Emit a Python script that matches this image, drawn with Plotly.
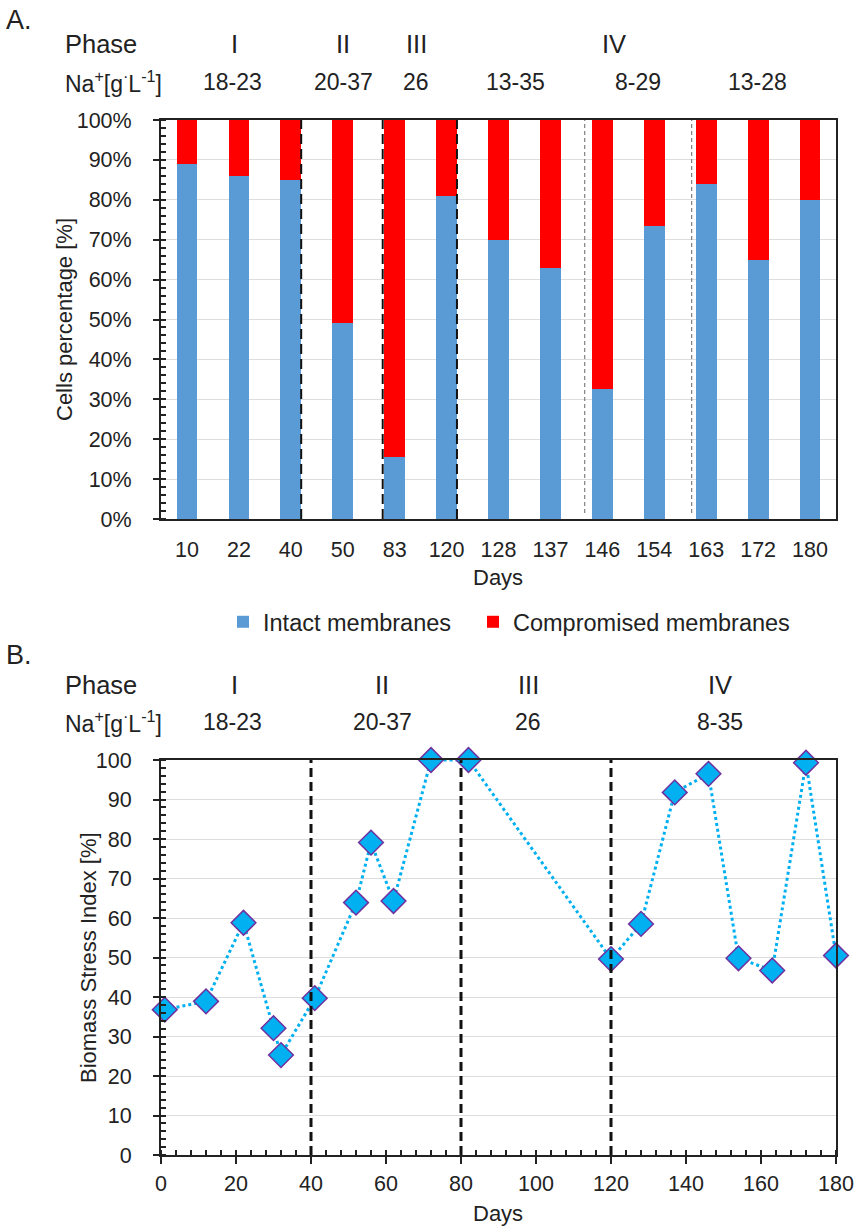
import plotly.graph_objects as go

# ---- Panel A: membrane integrity per sampling day ----
days_a = ["10", "22", "40", "50", "83", "120", "128", "137", "146", "154", "163", "172", "180"]
intact = [89, 86, 85, 49, 15.5, 81, 70, 63, 32.5, 73.5, 84, 65, 80]
compromised = [100 - v for v in intact]
pct_ticks = list(range(0, 101, 10))
pct_labels = [f"{v}%" for v in pct_ticks]

# ---- Panel B: biomass stress index over time ----
days_b = [1, 12, 22, 30, 32, 41, 52, 56, 62, 72, 82, 120, 128, 137, 146, 154, 163, 172, 180]
stress = [36.8, 38.9, 58.8, 32.1, 25.3, 39.7, 63.9, 79.1, 64.3, 100, 100, 49.6, 58.5,
          91.8, 96.5, 49.8, 46.7, 99.3, 50.5]

phase_a = ["I", "II", "III", "IV"]
na_a = ["18-23", "20-37", "26", "13-35", "8-29", "13-28"]
phase_b = ["I", "II", "III", "IV"]
na_b = ["18-23", "20-37", "26", "8-35"]

W, H = 859, 1229
FONT = "Liberation Sans, Arial, sans-serif"
TXT = "#222222"


def px(x):
    return x / W


def py(y):
    return 1 - y / H


fig = go.Figure()

fig.add_trace(go.Bar(x=days_a, y=intact, name="Intact membranes",
                     marker=dict(color="#5B9BD5", line=dict(width=0)),
                     xaxis="x", yaxis="y", legend="legend"))
fig.add_trace(go.Bar(x=days_a, y=compromised, name="Compromised membranes",
                     marker=dict(color="#FF0000", line=dict(width=0)),
                     xaxis="x", yaxis="y", legend="legend2"))

fig.add_trace(go.Scatter(x=days_b, y=stress, mode="lines+markers", showlegend=False,
                         line=dict(color="#00B0F0", width=3, dash="dot"),
                         marker=dict(symbol="diamond", size=19, color="#00B0F0",
                                     line=dict(color="#7030A0", width=1.5)),
                         cliponaxis=False, xaxis="x2", yaxis="y2"))

dom_x = [px(161), px(836)]
axis_common = dict(showline=True, linecolor="#222222", linewidth=2, mirror=True,
                   automargin=False,
                   tickfont=dict(family=FONT, size=21.5, color=TXT), zeroline=False)
minor_y = dict(dtick=2, ticks="inside", ticklen=5, tickcolor="#222222",
               tickwidth=1.5, showgrid=False)
legend_style = dict(orientation="h", xanchor="left", y=py(622), yanchor="middle",
                    font=dict(family=FONT, size=23.5, color=TXT), itemwidth=30,
                    bgcolor="rgba(0,0,0,0)")

fig.update_layout(
    width=W, height=H, margin=dict(l=0, r=0, t=0, b=0, autoexpand=False),
    paper_bgcolor="white", plot_bgcolor="white",
    barmode="stack", bargap=0.6,
    font=dict(family=FONT, color=TXT),
    xaxis=dict(domain=dom_x, anchor="y", type="category", range=[-0.5, 12.5],
               ticks="", ticklabelstandoff=10, showgrid=False, **axis_common),
    yaxis=dict(domain=[py(519), py(120)], anchor="x", range=[0, 100],
               tickmode="array", tickvals=pct_ticks, ticktext=pct_labels,
               ticks="outside", ticklen=6, tickcolor="#222222", tickwidth=1.5,
               ticklabelstandoff=17,
               showgrid=True, gridcolor="#DDDDDD", gridwidth=1,
               minor=minor_y, **axis_common),
    xaxis2=dict(domain=dom_x, anchor="y2", range=[0, 180], dtick=20,
                ticks="outside", ticklen=7, tickcolor="#222222", tickwidth=1.5,
                ticklabelstandoff=1, showgrid=False,
                minor=dict(dtick=4, ticks="inside", ticklen=5, tickcolor="#222222",
                           tickwidth=1.5, showgrid=False),
                **axis_common),
    yaxis2=dict(domain=[py(1155), py(760)], anchor="x2", range=[0, 100], dtick=10,
                ticks="outside", ticklen=6, tickcolor="#222222", tickwidth=1.5,
                ticklabelstandoff=17,
                showgrid=True, gridcolor="#DDDDDD", gridwidth=1,
                minor=minor_y, **axis_common),
    legend=dict(x=px(223), **legend_style),
    legend2=dict(x=px(473), **legend_style),
)

# Phase boundaries, panel A (category index coordinates)
for xv in [2.2, 3.77, 5.2]:
    fig.add_shape(type="line", xref="x", yref="y", x0=xv, x1=xv, y0=0, y1=100,
                  line=dict(color="#111111", width=2, dash="10px,5px"))
for xv in [7.66, 9.72]:
    fig.add_shape(type="line", xref="x", yref="y", x0=xv, x1=xv, y0=1.5, y1=101,
                  line=dict(color="#808080", width=1.2, dash="4px,3px"))

# Phase boundaries, panel B
for xv in [40, 80, 120]:
    fig.add_shape(type="line", xref="x2", yref="y2", x0=xv, x1=xv, y0=0, y1=100,
                  line=dict(color="#111111", width=3, dash="9px,5px"))

ann = []


def label(text, x, y, size, anchor="center", angle=0):
    ann.append(dict(text=text, x=px(x), y=py(y), xref="paper", yref="paper",
                    xanchor=anchor, yanchor="middle", showarrow=False, textangle=angle,
                    font=dict(family=FONT, size=size, color=TXT)))


NA = "Na<sup>+</sup>[g<sup>·</sup>L<sup>-1</sup>]"

# Panel A headings
label("A.", 4, 20, 27, "left")
label("Phase", 63, 44, 25.5, "left")
for t, x in zip(phase_a, [234, 343, 416, 614]):
    label(t, x, 44, 25.5)
label(NA, 63, 82, 23, "left")
for t, x in zip(na_a, [232, 343, 416, 515, 638, 757]):
    label(t, x, 82, 23)
label("Cells percentage [%]", 64, 320, 22, angle=-90)
label("Days", 498, 578, 22)

# Panel B headings
label("B.", 4, 655, 27, "left")
label("Phase", 63, 685, 25.5, "left")
for t, x in zip(phase_b, [234, 382, 528, 720]):
    label(t, x, 685, 25.5)
label(NA, 63, 722, 23, "left")
for t, x in zip(na_b, [232, 382, 528, 720]):
    label(t, x, 722, 23)
label("Biomass Stress Index [%]", 88, 958, 22, angle=-90)
label("Days", 498, 1213, 22)

fig.update_layout(annotations=ann)

fig.write_html("out.html")
